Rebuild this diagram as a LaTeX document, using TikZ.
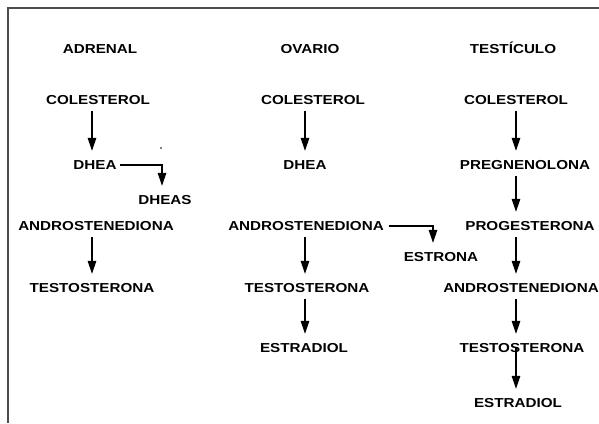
\documentclass[tikz,border=0pt]{standalone}
\usepackage{fontspec}
\setmainfont{Liberation Sans}[FakeStretch=1.17]
\usepackage{tikz}
\usetikzlibrary{arrows.meta}

\begin{document}
\begin{tikzpicture}[x=1pt,y=-1pt,thick,
  lbl/.style={inner sep=0pt,text height=9.5pt,text depth=0pt,font=\bfseries\fontsize{13}{13}\selectfont},
  arr/.style={-{Triangle[length=13pt,width=8.5pt]},line width=1.4pt,shorten <=6pt,shorten >=9pt}]
\useasboundingbox (0,0) rectangle (599,423);
\draw[line width=2pt,black!70] (8,423) -- (8,8) -- (599,8);
\coordinate (ax) at (92,0);
\coordinate (ox) at (305,0);
\coordinate (tx) at (516,0);
\node[lbl] (adr) at (100,49) {ADRENAL};
\node[lbl] (a1) at (98,100) {COLESTEROL};
\node[lbl] (a2) at (95,165) {DHEA};
\node[lbl] (a3) at (165,200) {DHEAS};
\node[lbl] (a4) at (96,226) {ANDROSTENEDIONA};
\node[lbl] (a5) at (92,288) {TESTOSTERONA};
\node[lbl] (ova) at (310,49) {OVARIO};
\node[lbl] (o1) at (313,100) {COLESTEROL};
\node[lbl] (o2) at (305,165) {DHEA};
\node[lbl] (o3) at (306,226) {ANDROSTENEDIONA};
\node[lbl] (o4) at (441,257) {ESTRONA};
\node[lbl] (o5) at (307,288) {TESTOSTERONA};
\node[lbl] (o6) at (304,348) {ESTRADIOL};
\node[lbl] (tes) at (513,49) {TESTÍCULO};
\node[lbl] (t1) at (516,100) {COLESTEROL};
\node[lbl] (t2) at (525,165) {PREGNENOLONA};
\node[lbl] (t3) at (530,226) {PROGESTERONA};
\node[lbl] (t4) at (521,288) {ANDROSTENEDIONA};
\node[lbl] (t5) at (522,348) {TESTOSTERONA};
\node[lbl] (t6) at (518,403) {ESTRADIOL};
\fill (161,148) circle (0.8pt);
\draw[arr] (a1.south -| ax) -- (a2.north -| ax);
\draw[arr] (a4.south -| ax) -- (a5.north -| ax);
\draw[arr,shorten <=3pt] (a2) -| ([xshift=-3pt]a3.north);
\draw[arr] (o1.south -| ox) -- (o2.north -| ox);
\draw[arr] (o3.south -| ox) -- (o5.north -| ox);
\draw[arr] (o5.south -| ox) -- (o6.north -| ox);
\draw[arr,shorten <=5pt] (o3) -| ([xshift=-8pt]o4.north);
\draw[arr] (t1.south -| tx) -- (t2.north -| tx);
\draw[arr] (t2.south -| tx) -- (t3.north -| tx);
\draw[arr] (t3.south -| tx) -- (t4.north -| tx);
\draw[arr] (t4.south -| tx) -- (t5.north -| tx);
\draw[arr,shorten <=-6pt] (t5.south -| tx) -- (t6.north -| tx);
\end{tikzpicture}
\end{document}
